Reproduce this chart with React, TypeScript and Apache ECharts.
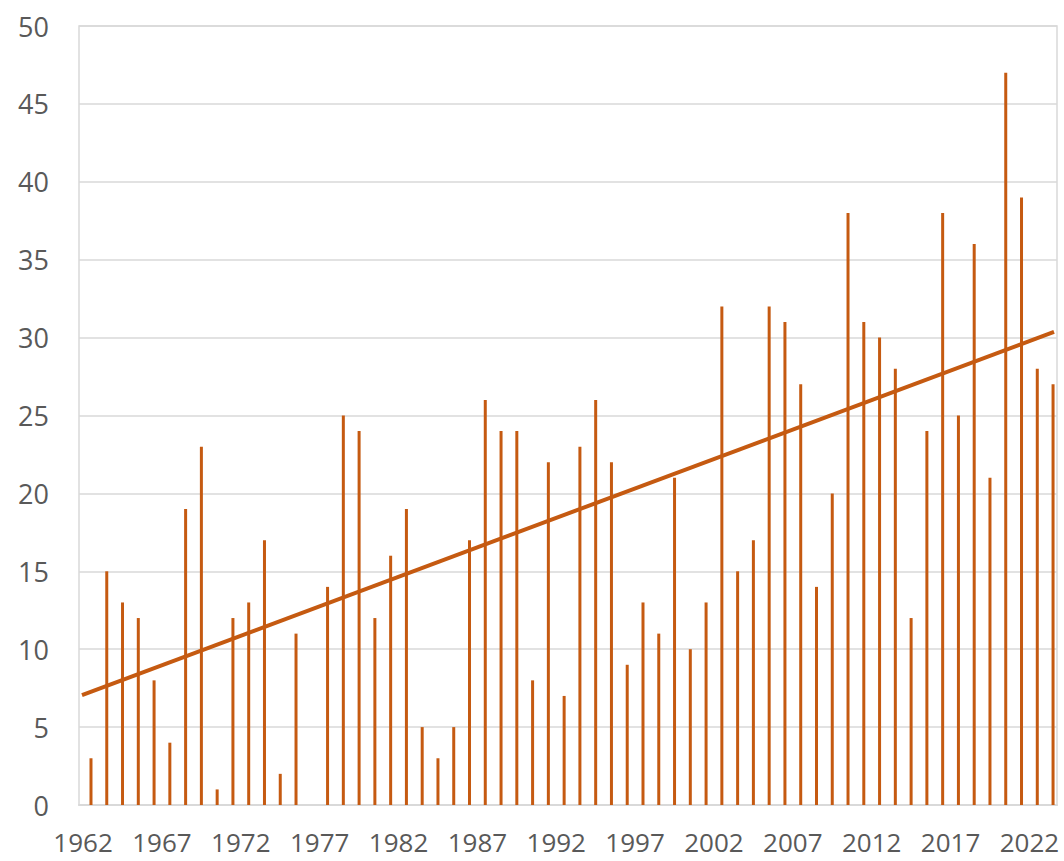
import React, { useEffect, useRef } from "react";
import * as echarts from "echarts";

// Years 1962..2023
const firstYear = 1962;
const values: number[] = [
  3, 15, 13, 12, 8, 4, 19, 23, 1, 12, // 1962-1971
  13, 17, 2, 11, 0, 14, 25, 24, 12, 16, // 1972-1981
  19, 5, 3, 5, 17, 26, 24, 24, 8, 22, // 1982-1991
  7, 23, 26, 22, 9, 13, 11, 21, 10, 13, // 1992-2001
  32, 15, 17, 32, 31, 27, 14, 20, 38, 31, // 2002-2011
  30, 28, 12, 24, 38, 25, 36, 21, 47, 39, // 2012-2021
  28, 27, // 2022-2023
];
const labelYears: number[] = [1962, 1967, 1972, 1977, 1982, 1987, 1992, 1997, 2002, 2007, 2012, 2017, 2022];
const yTicks: number[] = [0, 5, 10, 15, 20, 25, 30, 35, 40, 45, 50];
// Trend line endpoints (index units along the year axis, value)
const trendX: number[] = [-0.57, 61.06];
const trendY: number[] = [7.06, 30.36];

const ORANGE = "#C55A11";
const GRID = "#d9d9d9";
const TEXT = "#595959";
const FONT = "'Open Sans', 'Liberation Sans', sans-serif";

export default function App() {
  const ref = useRef<HTMLDivElement>(null);
  useEffect(() => {
    if (!ref.current) return;
    const chart = echarts.init(ref.current, undefined, { renderer: "svg" });
    const barData = values.map((v, i) => [i, v]);
    const labelPos = labelYears.map((y) => y - firstYear - 0.5);
    chart.setOption({
      animation: false,
      backgroundColor: "#ffffff",
      grid: {
        left: 79,
        right: 7,
        top: 26,
        bottom: 56,
        show: true,
        borderColor: GRID,
        borderWidth: 1.5,
        containLabel: false,
      },
      xAxis: {
        type: "value",
        min: -0.76,
        max: 61.25,
        axisLine: { show: true, lineStyle: { color: GRID, width: 2 } },
        axisTick: { show: false },
        splitLine: { show: false },
        axisLabel: {
          customValues: labelPos,
          formatter: (v: number) => String(Math.round(v + 0.5) + firstYear),
          color: TEXT,
          fontSize: 26,
          lineHeight: 24,
          fontFamily: FONT,
          margin: 25,
          showMinLabel: true,
          showMaxLabel: true,
        },
      },
      yAxis: {
        type: "value",
        min: yTicks[0],
        max: yTicks[yTicks.length - 1],
        interval: 5,
        axisLine: { show: false },
        axisTick: { show: false },
        splitLine: { show: true, lineStyle: { color: GRID, width: 1.5 } },
        axisLabel: {
          color: TEXT,
          fontSize: 27,
          fontFamily: FONT,
          margin: 30,
        },
      },
      series: [
        {
          type: "bar",
          data: barData,
          barWidth: 3,
          itemStyle: { color: ORANGE },
          z: 2,
        },
        {
          type: "line",
          data: trendX.map((x, i) => [x, trendY[i]]),
          symbol: "none",
          lineStyle: { color: ORANGE, width: 4 },
          z: 3,
        },
      ],
    });
    return () => chart.dispose();
  }, []);
  return (
    <div
      ref={ref}
      style={{ position: "fixed", left: 0, top: 0, width: 1064, height: 861, background: "#fff" }}
    />
  );
}
